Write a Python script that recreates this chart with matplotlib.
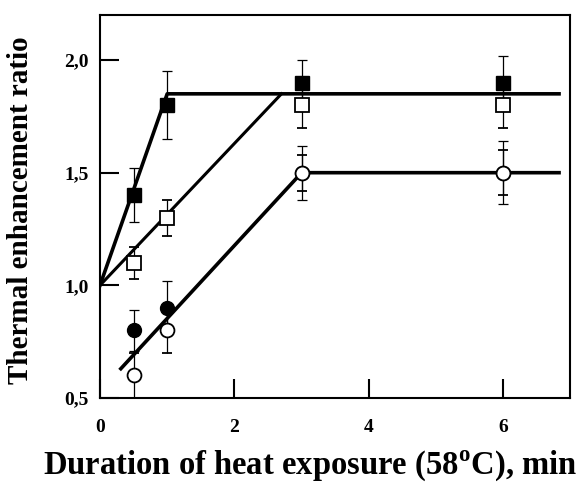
import matplotlib
matplotlib.use("Agg")
import matplotlib.pyplot as plt

plt.rcParams['font.family'] = ['Liberation Serif', 'DejaVu Serif']
plt.rcParams['font.weight'] = 'bold'
plt.rcParams['mathtext.fontset'] = 'custom'
plt.rcParams['mathtext.rm'] = 'Liberation Serif:bold'
plt.rcParams['mathtext.bf'] = 'Liberation Serif:bold'

# measured points
t = [0.5, 1, 3, 6]
sq_filled = [1.4, 1.8, 1.9, 1.9]
sq_filled_err = [0.12, 0.15, 0.1, 0.12]
sq_open = [1.1, 1.3, 1.8, 1.8]
sq_open_err = [0.07, 0.08, 0.1, 0.1]
ci_filled = [0.8, 0.9, 1.5, 1.5]
ci_filled_err = [0.09, 0.12, 0.12, 0.14]
ci_open = [0.6, 0.8, 1.5, 1.5]
ci_open_err = [0.1, 0.1, 0.08, 0.1]

# fitted lines
fit_sq_filled_x = [0, 1, 6.83]
fit_sq_filled_y = [1.0, 1.85, 1.85]
fit_sq_open_x = [0, 2.7]
fit_sq_open_y = [1.0, 1.85]
fit_ci_x = [0.31, 3, 6.83]
fit_ci_y = [0.63, 1.5, 1.5]

fig = plt.figure(figsize=(5.83, 4.83), dpi=100)
ax = fig.add_axes([0.1715, 0.176, 0.807, 0.793])

ax.plot(fit_sq_filled_x, fit_sq_filled_y, color='black', lw=2.6, zorder=2)
ax.plot(fit_sq_open_x, fit_sq_open_y, color='black', lw=2.2, zorder=2)
ax.plot(fit_ci_x, fit_ci_y, color='black', lw=2.6, zorder=2)

ebk = dict(ecolor='black', elinewidth=0.9, capsize=3.5, capthick=0.9, linestyle='none')
ax.errorbar(t, sq_filled, yerr=sq_filled_err, marker='s', ms=10, mfc='black', mec='black', **ebk, zorder=3)
ax.errorbar(t, sq_open, yerr=sq_open_err, marker='s', ms=10, mfc='white', mec='black', mew=1.3, **ebk, zorder=3)
ax.errorbar(t, ci_filled, yerr=ci_filled_err, marker='o', ms=10, mfc='black', mec='black', **ebk, zorder=3)
ax.errorbar(t, ci_open, yerr=ci_open_err, marker='o', ms=10, mfc='white', mec='black', mew=1.3, **ebk, zorder=4)

ax.set_xlim(0, 7)
ax.set_ylim(0.5, 2.2)
ax.set_xticks([0, 2, 4, 6])
ax.set_xticklabels(['0', '2', '4', '6'])
ax.set_yticks([0.5, 1.0, 1.5, 2.0])
ax.set_yticklabels(['0,5', '1,0', '1,5', '2,0'])
ax.tick_params(direction='in', length=14, width=1.5, labelsize=14)
ax.tick_params(axis='x', pad=15)
ax.tick_params(axis='y', pad=8)
for sp in ax.spines.values():
    sp.set_linewidth(1.5)

ax.set_ylabel('Thermal enhancement ratio', fontsize=21, fontweight='bold')
ax.yaxis.set_label_coords(-0.14, 0.49)
fig.text(0.074, 0.019, 'Duration of heat exposure (58$^{\\mathbf{o}}$C), min',
         fontsize=23.5, fontweight='bold', ha='left', va='baseline')

fig.savefig('out.png', dpi=100)
